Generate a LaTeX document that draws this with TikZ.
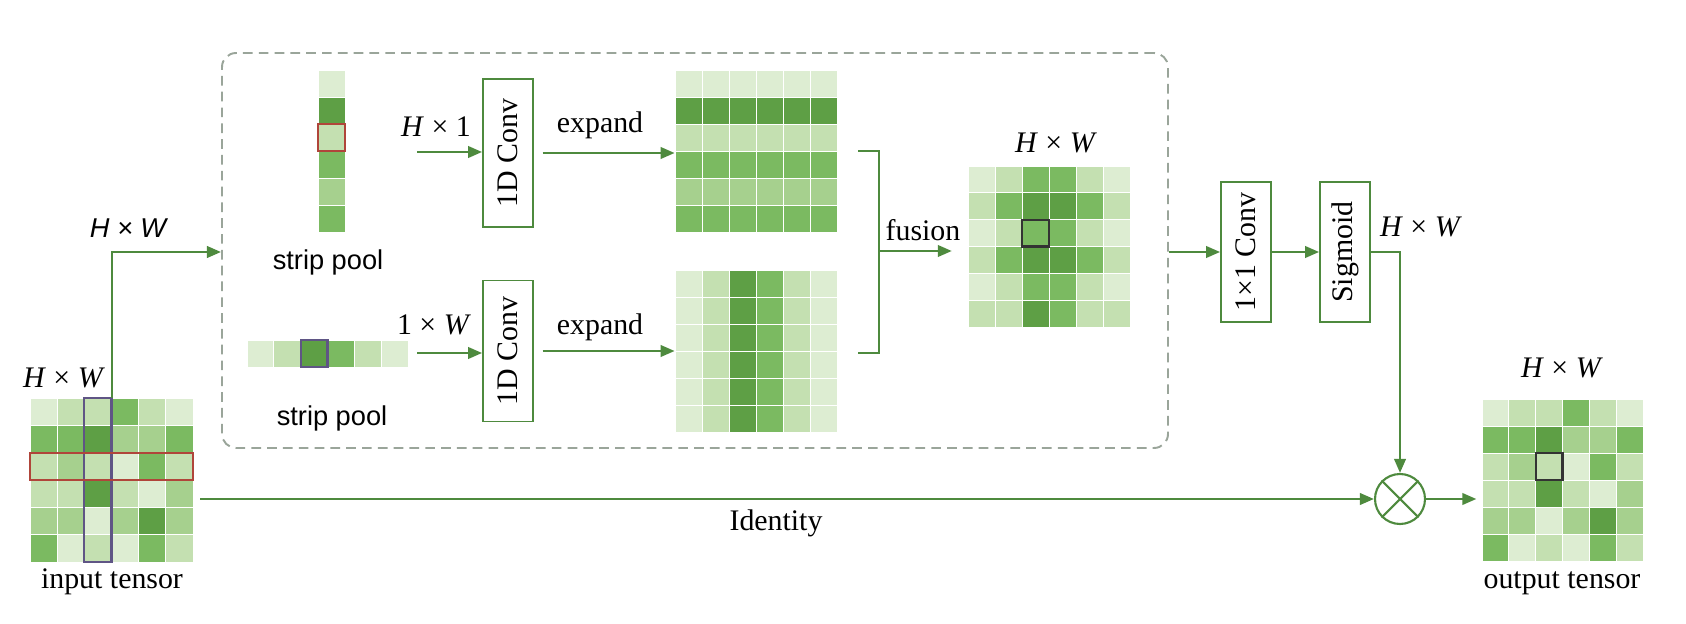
\documentclass[tikz,border=0pt]{standalone}
\usepackage{fontspec}
\usepackage{graphicx}
\setmainfont{Liberation Serif}
\setsansfont{Liberation Sans}
\usetikzlibrary{arrows.meta,fit}

\definecolor{gA}{HTML}{DDEDD2}
\definecolor{gB}{HTML}{C4E0B1}
\definecolor{gC}{HTML}{A6D08E}
\definecolor{gD}{HTML}{7BBA61}
\definecolor{gE}{HTML}{5E9F45}
\definecolor{lgreen}{HTML}{4E8A3E}
\definecolor{dgray}{HTML}{9AA59A}
\definecolor{hlred}{HTML}{B0453A}
\definecolor{hlpurple}{HTML}{5F5585}

\tikzset{
  flow/.style={lgreen, line width=1.5pt},
  arr/.style={flow, -{Triangle[length=8pt,width=6.5pt]}},
  opbox/.style={draw=lgreen, line width=1pt, minimum width=1cm, inner sep=0pt,
                font=\fontsize{17}{20}\selectfont},
  lbl/.style={font=\fontsize{17}{20}\selectfont},
  slbl/.style={font=\fontsize{15.5}{18}\selectfont\sffamily},
  hl/.style={line width=1.2pt},
}

% cells: x0, y0, cell width, cell height, rows of colours
\newcommand{\cellgrid}[5]{%
  \foreach \row [count=\i] in {#5} {
    \foreach \c [count=\j] in \row {
      \filldraw[fill=\c, draw=white, line width=0.5pt]
        ({#1+(\j-1)*#3},{#2+(\i-1)*#4}) rectangle ++(#3,#4);
    }
  }%
}

\begin{document}
\begin{tikzpicture}[x=0.02cm, y=-0.02cm]
\useasboundingbox (0,0) rectangle (1686,624);

%dashed frame
\node[fit={(222,53) (1168,448)}, inner sep=0pt, draw=dgray, line width=1.1pt,
      dash pattern=on 5.5pt off 3.5pt, rounded corners=8pt] (dbox) {};

%input tensor
\cellgrid{30}{398}{27.17}{27.33}{{gA,gB,gB,gD,gB,gA},{gD,gD,gE,gC,gC,gD},{gB,gC,gB,gA,gD,gB},{gB,gB,gE,gB,gA,gC},{gC,gC,gA,gC,gE,gC},{gD,gA,gB,gA,gD,gB}}
\node[fit={(30,398) (193,562)}, inner sep=0pt] (inp) {};
\draw[hlpurple, hl] (84.3,398) rectangle (111.5,562); %column
\draw[hlred, hl] (30,452.7) rectangle (193,480); %row
\node[lbl] (inplbl) at (112,582) {input tensor};
\node[lbl] (inpsize) at (64,378) {\textit{H} × \textit{W}};

%strip pools
\cellgrid{318}{70}{27}{27}{{gA},{gE},{gB},{gD},{gC},{gD}}
\node[fit={(318,70) (345,232)}, inner sep=0pt] (vstrip) {};
\draw[hlred, hl] (318,124) rectangle (345,151);
\node[slbl] (vlbl) at (328,262) {strip pool};

\cellgrid{247}{340}{26.83}{27}{{gA,gB,gE,gD,gB,gA}}
\node[fit={(247,340) (408,367)}, inner sep=0pt] (hstrip) {};
\draw[hlpurple, hl] (300.7,340) rectangle (327.5,367);
\node[slbl] (hlbl) at (332,418) {strip pool};

%1D convs
\node[opbox, minimum height=2.96cm] (conva) at (508,153) {\rotatebox{90}{1D Conv}};
\node[opbox, minimum height=2.82cm] (convb) at (508,351) {\rotatebox{90}{1D Conv}};

\coordinate (ha) at (417,152);
\coordinate (hb) at (417,353);
\draw[arr] (ha) -- (ha -| conva.west);
\draw[arr] (hb) -- (hb -| convb.west);
\node[lbl] (hasize) at (436,127) {\textit{H} × 1};
\node[lbl] (hbsize) at (434,325) {1 × \textit{W}};

%expanded maps
\cellgrid{675}{70}{27}{27}{{gA,gA,gA,gA,gA,gA},{gE,gE,gE,gE,gE,gE},{gB,gB,gB,gB,gB,gB},{gD,gD,gD,gD,gD,gD},{gC,gC,gC,gC,gC,gC},{gD,gD,gD,gD,gD,gD}}
\node[fit={(675,70) (837,232)}, inner sep=0pt] (rowexp) {};
\cellgrid{675}{270}{27}{27}{{gA,gB,gE,gD,gB,gA},{gA,gB,gE,gD,gB,gA},{gA,gB,gE,gD,gB,gA},{gA,gB,gE,gD,gB,gA},{gA,gB,gE,gD,gB,gA},{gA,gB,gE,gD,gB,gA}}
\node[fit={(675,270) (837,432)}, inner sep=0pt] (colexp) {};

\draw[arr, shorten <=5pt] (conva.east) -- (conva.east -| rowexp.west);
\draw[arr, shorten <=5pt] (convb.east) -- (convb.east -| colexp.west);
\node[lbl] (expa) at (600,125) {expand};
\node[lbl] (expb) at (600,327) {expand};

%fusion
\coordinate (bt) at (858,151);
\coordinate (bb) at (858,353);
\coordinate (bm) at (879,251);
\draw[flow] (bt) -| (bm) |- (bb);
\cellgrid{968}{166}{27}{26.83}{{gA,gB,gD,gD,gB,gA},{gB,gD,gE,gE,gD,gB},{gA,gB,gD,gD,gB,gA},{gB,gD,gE,gE,gD,gB},{gA,gB,gD,gD,gB,gA},{gB,gB,gE,gD,gB,gB}}
\node[fit={(968,166) (1130,327)}, inner sep=0pt] (fused) {};
\draw[black!80, hl] (1022,219.7) rectangle (1049,246.5);
\draw[arr, shorten >=9pt] (bm) -- (bm -| fused.west);
\node[lbl] (fuslbl) at (923,230) {fusion};
\node[lbl] (fussize) at (1056,143) {\textit{H} × \textit{W}};

%input split
\coordinate (split) at (112,252);
\draw[arr] (split |- inp.north) -- (split) -- (split -| dbox.west);
\node[slbl] (splitsize) at (128,228) {\itshape H × W};

%1x1 conv and sigmoid
\node[opbox, minimum height=2.8cm] (convc) at (1246,252) {\rotatebox{90}{1×1 Conv}};
\node[opbox, minimum height=2.8cm] (sig) at (1345,252) {\rotatebox{90}{Sigmoid}};
\draw[arr] (dbox.east |- convc) -- (convc.west);
\draw[arr] (convc) -- (sig.west);
\node[lbl] (sigsize) at (1421,227) {\textit{H} × \textit{W}};

%multiply
\node[circle, draw=lgreen, line width=1.2pt, minimum size=1cm, inner sep=0pt] (mult) at (1400,499) {};
\draw[lgreen, line width=1.2pt] (mult.north east) -- (mult.south west);
\draw[lgreen, line width=1.2pt] (mult.north west) -- (mult.south east);
\draw[arr] (sig.east) -| (mult.north);
\draw[arr, shorten <=4pt] (inp.east |- mult) -- (mult.west);
\node[lbl] (idlbl) at (776,523) {Identity};

%output tensor
\cellgrid{1482}{399}{26.83}{27}{{gA,gB,gB,gD,gB,gA},{gD,gD,gE,gC,gC,gD},{gB,gC,gB,gA,gD,gB},{gB,gB,gE,gB,gA,gC},{gC,gC,gA,gC,gE,gC},{gD,gA,gB,gA,gD,gB}}
\node[fit={(1482,399) (1643,561)}, inner sep=0pt] (outp) {};
\draw[black!80, hl] (1535.7,453) rectangle (1562.5,480);
\draw[arr, shorten >=3pt] (mult.east) -- (outp.west |- mult);
\node[lbl] (outsize) at (1562,368) {\textit{H} × \textit{W}};
\node[lbl] (outlbl) at (1562,583) {output tensor};
\end{tikzpicture}
\end{document}
